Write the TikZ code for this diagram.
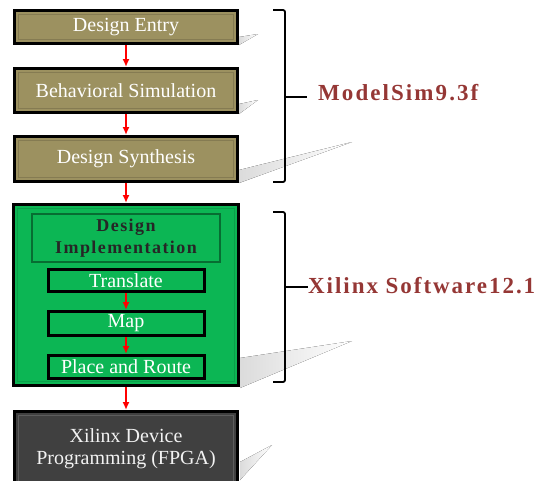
\documentclass[tikz,border=0pt]{standalone}
\usepackage{fontspec}
\setmainfont{Liberation Serif}
\usepackage{tikz}
\usetikzlibrary{arrows.meta,positioning}
\definecolor{olivefill}{RGB}{156,145,96}
\definecolor{implgreen}{RGB}{12,182,84}
\definecolor{darkbox}{RGB}{64,64,64}
\definecolor{labelred}{RGB}{149,55,53}
\tikzset{
bevel/.style = {path picture={\draw[#1, line width=0.7pt] ([shift={(4pt,-4pt)}]path picture bounding box.north west) rectangle ([shift={(-4pt,4pt)}]path picture bounding box.south east);}},
stage/.style = {draw, line width=3pt, fill=olivefill, text=white, minimum width=223pt, inner sep=1pt, align=center, font=\fontsize{20}{22}\selectfont, bevel=olivefill!85!black},
frame/.style = {draw, line width=3pt, fill=implgreen, minimum width=225pt, minimum height=181pt, bevel=implgreen!88!black},
phase/.style = {draw=implgreen!60!black, line width=2pt, fill=implgreen, text=black!85, minimum width=188pt, minimum height=48pt, inner sep=0pt, align=center, font=\fontsize{18}{22}\selectfont\bfseries\addfontfeature{LetterSpace=8}},
substep/.style = {draw, line width=3pt, fill=implgreen, text=white, minimum width=156pt, inner sep=0pt, font=\fontsize{20}{22}\selectfont},
flow/.style = {->, red, line width=2pt},
bracket/.style = {line width=1.8pt, rounded corners=2pt},
tool/.style = {text=labelred, inner sep=0pt, anchor=base west, font=\fontsize{23}{26}\selectfont\bfseries},
shadowwedge/.style = {left color=gray!28, right color=white, draw=none}
}
\begin{document}
\begin{tikzpicture}[x=1pt, y=-1pt, >={Latex[length=8pt,width=7pt]}]
  \useasboundingbox (0,0) rectangle (536,480);
  \fill [shadowwedge] (239,37) -- (239,45) -- (258,34) -- cycle;
  \fill [shadowwedge] (239,104) -- (239,114) -- (258,100) -- cycle;
  \fill [shadowwedge] (239,170) -- (239,183) -- (352,142) -- cycle;
  \fill [shadowwedge] (240,358) -- (240,388) -- (352,341) -- cycle;
  \fill [shadowwedge] (240,462) -- (240,480) -- (272,445) -- cycle;

  \node [stage, minimum height=33pt] (entry) at (126,27) {Design Entry};
  \node [stage, minimum height=44pt, below=22pt of entry] (behav) {Behavioral Simulation};
  \node [stage, minimum height=45pt, below=21pt of behav]  (synth) {Design Synthesis};
  \node [frame, below=20pt of synth]                       (impl)  {};
  \node [phase, below=10pt of impl.north]                  (dimpl) {Design\\Implementation};
  \node [substep, minimum height=22pt, below=5pt of dimpl]   (trans) {Translate};
  \node [substep, minimum height=24pt, below=17pt of trans]  (map)   {Map};
  \node [substep, minimum height=23pt, below=17pt of map]    (par)   {Place and Route};
  \node [stage, fill=darkbox, minimum height=75pt, below=23pt of impl, bevel=darkbox!85!white, text=white!95!black] (xdev) {Xilinx Device\\Programming (FPGA)};

  \node [tool, font=\fontsize{23}{26}\selectfont\bfseries\addfontfeature{LetterSpace=9}] (ms) at (318,100) {ModelSim9.3f};
  \node [tool, font=\fontsize{23}{26}\selectfont\bfseries\addfontfeature{LetterSpace=8.5}] (xs) at (308,293) {Xilinx Software12.1};
  \coordinate (msb) at (285,97);
  \coordinate (xsb) at (285,287);

  \draw [flow] (entry) -- (behav);
  \draw [flow] (behav) -- (synth);
  \draw [flow] (synth) -- (impl);
  \draw [flow] (trans) -- (map);
  \draw [flow] (map) -- (par);
  \draw [flow] (impl) -- (xdev);
  \draw [bracket] (273,10) -- (285,10) -- (285,182) -- (273,182);
  \draw [bracket] (273,212) -- (285,212) -- (285,382) -- (273,382);
  \draw [line width=1.8pt] (msb) -- ([xshift=-11pt]msb -| ms.west);
  \draw [line width=1.8pt] (xsb) -- (xsb -| xs.west);
\end{tikzpicture}
\end{document}
